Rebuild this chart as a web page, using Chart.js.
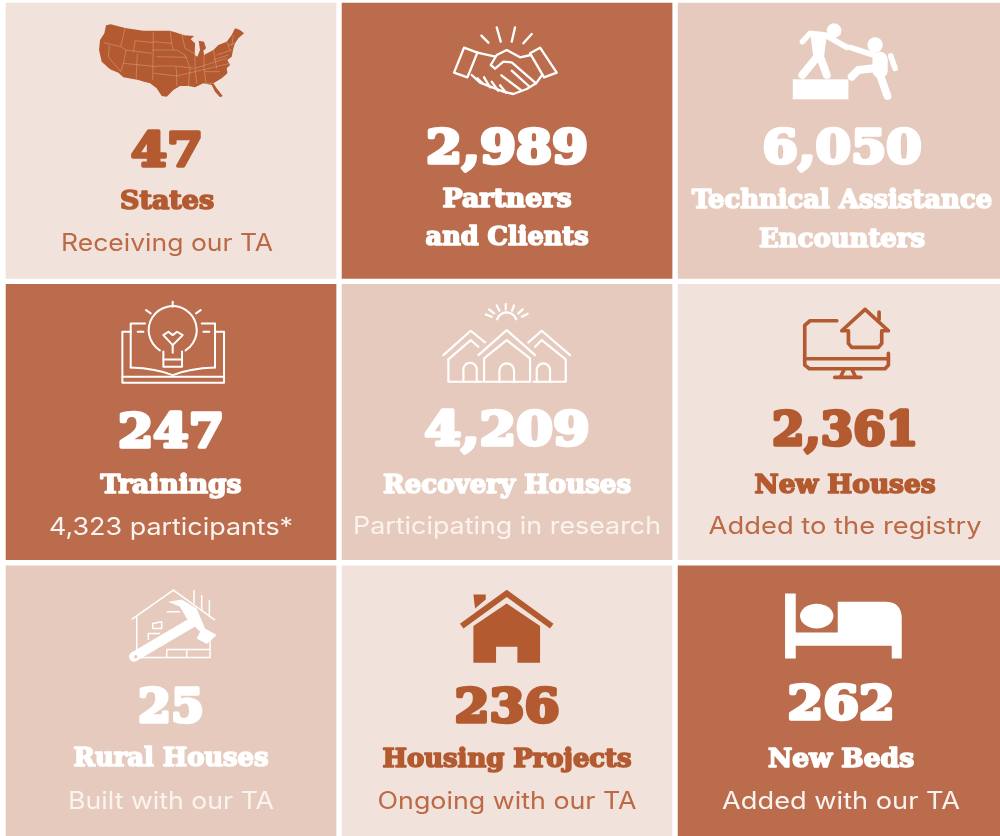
<!DOCTYPE html>
<html>
<head>
<meta charset="utf-8">
<title>Impact summary</title>
<script src="https://cdn.jsdelivr.net/npm/chart.js@4"></script>
<style>
  html, body { margin: 0; padding: 0; background: #fff; overflow: hidden; }
  #wrap { width: 1000px; height: 836px; }
  #tiles { filter: blur(0.4px); }
</style>
</head>
<body>
<div id="wrap"><canvas id="tiles" width="1000" height="836"></canvas></div>
<script>
// chart values
var columns = [0, 1, 2];
var rowNames = ["top", "middle", "bottom"];
var rowHeights = [1, 1, 1];
var counts = [47, 2989, 6050, 247, 4209, 2361, 25, 236, 262];
var headings = [
    ["States"], ["Partners", "and Clients"], ["Technical Assistance", "Encounters"],
    ["Trainings"], ["Recovery Houses"], ["New Houses"],
    ["Rural Houses"], ["Housing Projects"], ["New Beds"]
];
var captions = [
    "Receiving our TA", "", "",
    "4,323 participants*", "Participating in research", "Added to the registry",
    "Built with our TA", "Ongoing with our TA", "Added with our TA"
];
var shades = ["light", "dark", "mid", "dark", "mid", "light", "mid", "light", "dark"];

var fill = { light: "#f2e2dc", mid: "#e6cabe", dark: "#ba6c4c" };
var ink = { light: "#b35a30", mid: "#ffffff", dark: "#ffffff" };

// text widths and baselines per tile, measured from the tile's top edge
var textFit = [
    { dx: -4, num: [72, 166], head: [[94, 209]], cap: [212, 251] },
    { dx: 0, num: [162, 163], head: [[129, 207], [163, 245]] },
    { dx: -1, num: [159, 163], head: [[300, 208], [166, 247]] },
    { dx: 0, num: [106, 166], head: [[141, 212]], cap: [244, 254] },
    { dx: 0, num: [165, 164], head: [[248, 212]], cap: [308, 253] },
    { dx: 2, num: [146, 164], head: [[181, 212]], cap: [273, 253] },
    { dx: 0, num: [66, 159], head: [[195, 203]], cap: [206, 246] },
    { dx: 0, num: [105, 159], head: [[249, 204]], cap: [259, 246] },
    { dx: -2, num: [107, 156], head: [[146, 204]], cap: [238, 246] }
];

function fitText(ctx, text, cx, y, width, font, color, heavy) {
    ctx.save();
    ctx.font = font;
    ctx.fillStyle = color;
    ctx.strokeStyle = color;
    ctx.textAlign = "center";
    ctx.textBaseline = "alphabetic";
    ctx.lineJoin = "round";
    var measured = ctx.measureText(text).width;
    ctx.translate(cx, y);
    ctx.scale(width / measured, 1);
    if (heavy) {
        ctx.lineWidth = heavy;
        ctx.strokeText(text, 0, 0);
    }
    ctx.fillText(text, 0, 0);
    ctx.restore();
}

function poly(ctx, pts, close) {
    ctx.beginPath();
    ctx.moveTo(pts[0][0], pts[0][1]);
    for (var i = 1; i < pts.length; i++) ctx.lineTo(pts[i][0], pts[i][1]);
    if (close) ctx.closePath();
}

function lines(ctx, segs) {
    segs.forEach(function (s) { poly(ctx, s, false); ctx.stroke(); });
}

// icons are drawn at 3x, in the coordinates of a crop around each tile
var icons = [
    function usMap(ctx, color, bg) {
        ctx.fillStyle = color;
        poly(ctx, [[318,76],[332,73],[375,84],[430,92],[510,92],[530,98],[552,106],[582,108],[572,118],[585,130],[584,165],[592,170],[600,150],[596,122],[612,125],[618,145],[610,152],[612,165],[640,150],[655,135],[680,125],[695,105],[705,85],[720,90],[732,100],[715,115],[705,130],[700,145],[695,170],[682,180],[690,195],[680,205],[682,220],[665,235],[640,250],[650,265],[668,288],[660,292],[645,275],[635,255],[610,250],[585,262],[565,258],[540,258],[520,270],[500,290],[485,288],[470,265],[450,250],[432,245],[415,240],[370,232],[355,218],[330,208],[305,185],[297,150],[300,120],[313,100]], true);
        ctx.fill();
        ctx.strokeStyle = "#d79a7e";
        ctx.lineWidth = 1.8;
        lines(ctx, [
            [[312,128],[362,140]], [[328,135],[325,170],[362,215]], [[362,140],[375,85]], [[362,140],[378,150],[370,190],[362,215]],
            [[378,150],[455,160]], [[405,122],[400,158]], [[405,122],[460,128]], [[460,95],[458,240]],
            [[370,190],[470,200]], [[412,160],[408,240]], [[510,92],[515,130],[460,125]], [[458,150],[530,150],[555,165]],
            [[470,170],[560,172]], [[470,198],[528,198],[530,228]], [[462,220],[530,228],[530,258]], [[530,198],[580,205]],
            [[530,228],[690,190]], [[515,130],[520,148]], [[545,100],[555,145],[582,160]], [[555,165],[570,205],[565,258]],
            [[585,165],[585,205],[590,250]], [[612,165],[612,205]], [[585,205],[680,175]], [[612,205],[618,250],[640,250]],
            [[640,150],[650,205]], [[650,165],[695,150]], [[640,180],[685,165]], [[660,215],[615,215]], [[680,125],[690,150]],
            [[700,105],[695,140]], [[685,135],[705,130]]
        ]);
    },
    function handshake(ctx, color) {
        ctx.strokeStyle = color;
        ctx.lineWidth = 7;
        ctx.lineCap = "round";
        ctx.lineJoin = "round";
        poly(ctx, [[372,143],[412,158],[382,232],[342,218]], true); ctx.stroke();
        poly(ctx, [[600,143],[650,218],[612,232],[570,160]], true); ctx.stroke();
        lines(ctx, [
            [[424,107],[445,128]], [[470,82],[482,125]], [[525,82],[515,125]], [[575,102],[550,130]],
            [[412,158],[466,170]],
            [[572,165],[540,172],[500,150],[470,165],[452,195],[465,206],[490,185],[515,187],[588,250]],
            [[395,225],[420,248],[490,275],[520,282],[560,267],[588,250],[606,225]],
            [[484,226],[542,270]], [[515,212],[566,258]],
            [[412,235],[428,250]], [[432,232],[450,262]], [[455,245],[474,272]], [[480,256],[498,278]]
        ]);
    },
    function climbers(ctx, color) {
        ctx.fillStyle = color;
        ctx.strokeStyle = color;
        ctx.lineCap = "round";
        ctx.lineJoin = "round";
        ctx.fillRect(368, 238, 167, 60);
        ctx.beginPath(); ctx.arc(492, 92, 22, 0, Math.PI * 2); ctx.fill();
        ctx.beginPath(); ctx.arc(615, 135, 23, 0, Math.PI * 2); ctx.fill();
        ctx.lineWidth = 17;
        lines(ctx, [[[397,125],[420,100],[465,105],[530,142]], [[540,142],[610,165]], [[662,168],[675,205]]]);
        poly(ctx, [[420,95],[470,105],[462,170],[430,175]], true); ctx.fill();
        ctx.lineWidth = 24;
        lines(ctx, [[[438,175],[397,225]], [[452,175],[470,225]], [[612,205],[565,210],[545,230]], [[630,225],[652,288]]]);
        ctx.lineWidth = 46;
        lines(ctx, [[[630,178],[630,212]]]);
    },
    function bookBulb(ctx, color) {
        ctx.strokeStyle = color;
        ctx.lineWidth = 6;
        ctx.lineJoin = "round";
        ctx.lineCap = "round";
        lines(ctx, [
            [[392,155],[367,155],[367,308],[672,308],[672,155],[645,155]],
            [[367,290],[672,290]],
            [[435,130],[392,130],[392,262]], [[605,130],[645,130],[645,262]],
            [[518,65],[518,80]], [[438,90],[452,100]], [[602,90],[588,100]],
            [[413,155],[430,155]], [[610,155],[628,155]],
            [[490,238],[546,238]],
            [[490,165],[505,155],[518,165],[531,155],[548,165],[518,195],[490,165]],
            [[518,195],[518,218]]
        ]);
        ctx.beginPath(); ctx.moveTo(392, 262); ctx.quadraticCurveTo(470, 265, 518, 285); ctx.quadraticCurveTo(566, 265, 645, 262); ctx.stroke();
        ctx.beginPath(); ctx.arc(518, 150, 72, Math.PI * 0.68, Math.PI * 0.32); ctx.stroke();
        ctx.beginPath(); ctx.moveTo(490, 214); ctx.lineTo(490, 260); ctx.lineTo(546, 260); ctx.lineTo(546, 214); ctx.stroke();
    },
    function houses(ctx, color) {
        ctx.strokeStyle = color;
        ctx.lineWidth = 6.5;
        ctx.lineJoin = "round";
        ctx.lineCap = "round";
        ctx.beginPath(); ctx.arc(500, 127, 30, Math.PI * 1.1, Math.PI * 1.9); ctx.stroke();
        lines(ctx, [
            [[437,103],[455,110]], [[447,88],[462,100]], [[470,76],[478,92]], [[497,72],[497,88]], [[522,76],[516,92]], [[548,88],[535,100]], [[563,101],[545,110]],
            [[415,225],[500,150],[585,225]], [[432,235],[500,180],[570,235],[570,305],[432,305],[432,235]],
            [[310,225],[392,152],[435,187]], [[325,238],[392,180],[415,200]], [[325,238],[325,305],[425,305]],
            [[565,187],[605,152],[690,225]], [[585,200],[605,180],[677,238],[677,305],[580,305]]
        ]);
        var doors = [[390, 268, 20], [500, 272, 22], [610, 270, 20]];
        doors.forEach(function (d) {
            ctx.beginPath();
            ctx.moveTo(d[0] - d[2], 305);
            ctx.lineTo(d[0] - d[2], d[1]);
            ctx.arc(d[0], d[1], d[2], Math.PI, 0);
            ctx.lineTo(d[0] + d[2], 305);
            ctx.stroke();
        });
    },
    function monitor(ctx, color) {
        ctx.strokeStyle = color;
        ctx.lineWidth = 11;
        ctx.lineJoin = "round";
        ctx.lineCap = "round";
        lines(ctx, [
            [[500,122],[420,122],[404,136],[404,255],[418,266],[645,266],[655,255],[655,220]],
            [[404,236],[655,236]],
            [[522,268],[512,290]], [[546,268],[556,290]], [[494,292],[572,292]],
            [[585,88],[515,152],[535,152],[535,190],[545,202],[625,202],[635,190],[635,152],[655,152],[585,88]],
            [[627,96],[627,118]]
        ]);
    },
    function hammerHouse(ctx, color, bg) {
        ctx.strokeStyle = color;
        ctx.fillStyle = color;
        ctx.lineWidth = 4.5;
        ctx.lineJoin = "round";
        lines(ctx, [
            [[395,178],[520,90],[645,180]], [[410,170],[410,292],[630,292],[630,240]],
            [[582,90],[582,130]], [[605,105],[605,150]], [[628,120],[628,170]],
            [[500,155],[540,155]], [[445,240],[445,220],[480,220]],
            [[500,268],[630,268]], [[500,268],[500,292]], [[560,268],[560,292]]
        ]);
        poly(ctx, [[458,190],[485,185],[485,205],[458,205]], true); ctx.stroke();
        ctx.lineWidth = 30;
        ctx.lineCap = "round";
        lines(ctx, [[[402,290],[575,188]]]);
        poly(ctx, [[505,125],[545,118],[590,145],[615,205],[650,225],[620,252],[590,235],[600,215],[560,175],[540,140]], true);
        ctx.fill();
        ctx.fillStyle = bg;
        ctx.beginPath(); ctx.arc(407, 290, 5, 0, Math.PI * 2); ctx.fill();
    },
    function roofHouse(ctx, color) {
        ctx.fillStyle = color;
        ctx.strokeStyle = color;
        poly(ctx, [[400,103],[437,103],[437,118],[405,145]], true); ctx.fill();
        ctx.lineWidth = 18;
        poly(ctx, [[365,198],[500,100],[635,198]], false); ctx.stroke();
        poly(ctx, [[400,198],[500,130],[600,198],[600,308],[532,308],[532,260],[468,260],[468,308],[400,308]], true);
        ctx.fill();
    },
    function bed(ctx, color) {
        ctx.fillStyle = color;
        ctx.beginPath();
        ctx.moveTo(345, 100); ctx.lineTo(377, 100); ctx.lineTo(377, 217); ctx.lineTo(503, 217);
        ctx.lineTo(503, 125); ctx.lineTo(645, 125); ctx.quadraticCurveTo(695, 125, 695, 175);
        ctx.lineTo(695, 295); ctx.lineTo(665, 295); ctx.lineTo(665, 257); ctx.lineTo(377, 257);
        ctx.lineTo(377, 295); ctx.lineTo(345, 295); ctx.closePath();
        ctx.fill();
        ctx.beginPath(); ctx.ellipse(440, 168, 50, 37, 0, 0, Math.PI * 2); ctx.fill();
    }
];
var cropShiftX = [-171, -167, -173];
var cropShiftY = [0, -1.3, -2.7];

var tileContent = {
    id: "tileContent",
    afterDatasetsDraw: function (chart) {
        var ctx = chart.ctx;
        var xs = chart.scales.x;
        var ys = chart.scales.y;
        counts.forEach(function (count, i) {
            var col = i % 3;
            var row = Math.floor(i / 3);
            var cx = xs.getPixelForValue(columns[col]);
            var top = ys.getPixelForValue(row);
            var shade = shades[i];
            var color = ink[shade];
            var fit = textFit[i];

            ctx.save();
            ctx.translate(cx + cropShiftX[col], top + cropShiftY[row]);
            ctx.scale(1 / 3, 1 / 3);
            icons[i](ctx, color, fill[shade]);
            ctx.restore();

            var numText = count.toLocaleString("en-US");
            fitText(ctx, numText, cx + fit.dx, top + fit.num[1], fit.num[0], "bold 46px 'DejaVu Serif'", color, 3.6);
            headings[i].forEach(function (line, k) {
                fitText(ctx, line, cx + fit.dx, top + fit.head[k][1], fit.head[k][0], "bold 26px 'DejaVu Serif Condensed', 'DejaVu Serif'", color, 1.6);
            });
            if (captions[i]) {
                var capColor = shade === "light" ? "#bb6a45" : "#fbf3ef";
                fitText(ctx, captions[i], cx + fit.dx, top + fit.cap[1], fit.cap[0], "400 24px Inter", capColor, 0);
            }
        });
    }
};

document.addEventListener("DOMContentLoaded", function () {
    var tileChart = new Chart(document.getElementById("tiles").getContext("2d"), {
        type: "bar",
        data: {
            datasets: rowNames.map(function (name, r) {
                return {
                    label: name,
                    data: columns.map(function (c) { return { x: c, y: rowHeights[r] }; }),
                    backgroundColor: columns.map(function (c) { return fill[shades[r * 3 + c]]; }),
                    borderColor: "#ffffff",
                    borderWidth: 3,
                    borderSkipped: false,
                    barThickness: 336
                };
            })
        },
        options: {
            responsive: false,
            animation: false,
            layout: { padding: 0 },
            plugins: { legend: { display: false }, tooltip: { enabled: false } },
            scales: {
                x: { type: "linear", stacked: true, display: false, offset: false, min: -0.509, max: 2.467 },
                y: { stacked: true, reverse: true, display: false, min: 0, max: 2.971 }
            }
        },
        plugins: [tileContent]
    });
    console.log("Chart initialized successfully.", tileChart.id);
});
</script>
</body>
</html>
